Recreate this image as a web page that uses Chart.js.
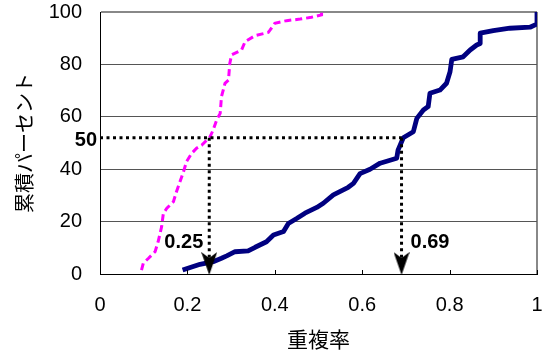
<!DOCTYPE html>
<html>
<head>
<meta charset="utf-8">
<script src="https://cdn.jsdelivr.net/npm/chart.js@4/dist/chart.umd.min.js"></script>
<style>
  html, body { margin: 0; padding: 0; background: #fff; }
  #wrap { width: 547px; height: 358px; position: relative; }
</style>
</head>
<body>
<div id="wrap"><canvas id="c" width="547" height="358"></canvas></div>
<script>
// ---- data ----
const xTickLabels = ['0', '0.2', '0.4', '0.6', '0.8', '1'];
const yTickLabels = ['0', '20', '40', '60', '80', '100'];
const xAxisTitle = '重複率';
const yAxisTitle = '累積パーセント';

// navy (solid) cumulative curve
const navyX = [0.189, 0.229, 0.259, 0.278, 0.29, 0.309, 0.339, 0.355, 0.381, 0.397, 0.42, 0.431, 0.45, 0.469, 0.496, 0.511, 0.534, 0.568, 0.58, 0.595, 0.618, 0.641, 0.679, 0.682, 0.694, 0.717, 0.725, 0.74, 0.751, 0.755, 0.778, 0.793, 0.801, 0.805, 0.831, 0.847, 0.862, 0.87, 0.87, 0.9, 0.938, 0.984, 0.997, 1.0, 1.0];
const navyY = [1.5, 3.7, 4.7, 6, 6.9, 8.5, 8.8, 10.2, 12.3, 14.9, 16.2, 19.3, 21.2, 23.2, 25.4, 27, 30.2, 33.1, 34.6, 38.3, 40.0, 42.3, 44.2, 47.3, 52.0, 54.3, 59.4, 62.6, 63.9, 69, 70.2, 72.8, 77.2, 81.9, 82.9, 85.5, 87.4, 88, 91.9, 92.9, 93.8, 94.2, 95.2, 95.5, 100];

// magenta (dashed) cumulative curve
const magentaX = [0.095, 0.099, 0.111, 0.126, 0.133, 0.141, 0.145, 0.153, 0.168, 0.175, 0.183, 0.191, 0.198, 0.21, 0.221, 0.233, 0.252, 0.259, 0.267, 0.275, 0.278, 0.282, 0.286, 0.294, 0.297, 0.301, 0.324, 0.332, 0.355, 0.385, 0.389, 0.4, 0.427, 0.458, 0.484, 0.507, 0.507];
const magentaY = [1.5, 4.1, 6, 8.5, 12.3, 18, 23.2, 25.1, 27.6, 31.4, 35.2, 39, 42.9, 46.1, 48, 49.2, 52.4, 55, 58.8, 61.3, 67.7, 70.2, 72.8, 74, 80.4, 83.6, 85.5, 88.7, 91, 92.2, 93.1, 95.7, 96.7, 97.3, 98, 98.9, 100];

// 50% reference guides
const refLevel = 52;              // height of the horizontal dotted guide
const refLabel = '50';
const medianX = [0.25, 0.69];     // where the guides drop to the axis
const medianLabels = ['0.25', '0.69'];
const medianLabelY = [12, 12];

// ---- helpers ----
const toPts = (xs, ys) => xs.map((x, i) => ({ x, y: ys[i] }));
const FONT = '"Liberation Sans", Arial, "Noto Sans CJK JP", sans-serif';

function makeArrow() {
  const c = document.createElement('canvas');
  c.width = 16; c.height = 44;
  const g = c.getContext('2d');
  g.fillStyle = '#000';
  g.beginPath();
  g.moveTo(0, 0);
  g.lineTo(8, 6);
  g.lineTo(16, 0);
  g.lineTo(8, 23);
  g.closePath();
  g.fill();
  return c;
}
const arrowImg = makeArrow();

const dotted = { borderColor: '#000', borderWidth: 3, borderDash: [3, 3.5], pointRadius: 0, showLine: true, tension: 0, order: 0 };

const datasets = [
  Object.assign({ data: [{ x: 0, y: refLevel }, { x: medianX[1], y: refLevel }] }, dotted),
  Object.assign({ data: [{ x: medianX[0], y: refLevel }, { x: medianX[0], y: 4 }] }, dotted),
  Object.assign({ data: [{ x: medianX[1], y: refLevel }, { x: medianX[1], y: 4 }] }, dotted),
  {
    data: medianX.map(x => ({ x, y: 0 })),
    showLine: false, pointStyle: arrowImg, pointRadius: 8, order: -1
  },
  {
    data: toPts(navyX, navyY),
    showLine: true, borderColor: '#000080', borderWidth: 4.8, pointRadius: 0, tension: 0,
    borderJoinStyle: 'round', order: 1
  },
  {
    data: toPts(magentaX, magentaY),
    showLine: true, borderColor: '#FF00FF', borderWidth: 3, borderDash: [7, 4], pointRadius: 0, tension: 0,
    order: 2
  }
];

const labelPlugin = {
  id: 'labels',
  afterDatasetsDraw(chart) {
    const { ctx, scales: { x, y } } = chart;
    ctx.save();
    // inner tick marks on the x axis
    ctx.strokeStyle = '#000';
    ctx.lineWidth = 1;
    x.ticks.forEach(t => {
      const px = Math.round(x.getPixelForValue(t.value)) + 0.5;
      ctx.beginPath();
      ctx.moveTo(px, y.bottom);
      ctx.lineTo(px, y.bottom - 4);
      ctx.stroke();
    });
    ctx.fillStyle = '#000';
    ctx.font = 'bold 20px ' + FONT;
    ctx.textBaseline = 'middle';
    ctx.textAlign = 'right';
    ctx.fillText(refLabel, x.getPixelForValue(0) - 3, y.getPixelForValue(refLevel) + 3);
    ctx.textAlign = 'right';
    ctx.fillText(medianLabels[0], x.getPixelForValue(medianX[0]) - 6, y.getPixelForValue(medianLabelY[0]));
    ctx.textAlign = 'left';
    ctx.fillText(medianLabels[1], x.getPixelForValue(medianX[1]) + 9, y.getPixelForValue(medianLabelY[1]));
    ctx.restore();
  }
};

new Chart(document.getElementById('c'), {
  type: 'scatter',
  data: { datasets },
  plugins: [labelPlugin],
  options: {
    responsive: false,
    animation: false,
    events: [],
    layout: { padding: { top: 12, right: 10, bottom: 4, left: 0 } },
    plugins: { legend: { display: false }, tooltip: { enabled: false } },
    scales: {
      x: {
        type: 'linear', min: 0, max: 1,
        afterFit(s) { s.height = 80; },
        ticks: {
          stepSize: 0.2, color: '#000', padding: 0,
          font: { size: 20, family: FONT },
          callback: (v, i) => xTickLabels[i]
        },
        grid: {
          drawTicks: true, tickLength: 19, tickColor: 'rgba(0,0,0,0)',
          color: c => (c.tick && c.tick.value === 1) ? '#888' : 'rgba(0,0,0,0)',
          lineWidth: c => (c.tick && c.tick.value === 1) ? 2 : 1
        },
        border: { color: '#000', width: 1 },
        title: { display: true, text: xAxisTitle, color: '#000', padding: 0, font: { size: 21, family: FONT } }
      },
      y: {
        type: 'linear', min: 0, max: 100,
        afterFit(s) { s.width = 100; },
        ticks: {
          stepSize: 20, color: '#000', padding: 0,
          font: { size: 20, family: FONT },
          callback: (v, i) => yTickLabels[i]
        },
        grid: {
          drawTicks: true, tickLength: 18, tickColor: 'rgba(0,0,0,0)',
          color: c => (c.tick && c.tick.value === 100) ? '#888' : '#555',
          lineWidth: c => (c.tick && c.tick.value === 100) ? 2 : 1
        },
        border: { color: '#000', width: 1 },
        title: { display: true, text: yAxisTitle, color: '#000', padding: { top: 14, bottom: 0 }, font: { size: 20, family: FONT } }
      }
    }
  }
});
</script>
</body>
</html>
